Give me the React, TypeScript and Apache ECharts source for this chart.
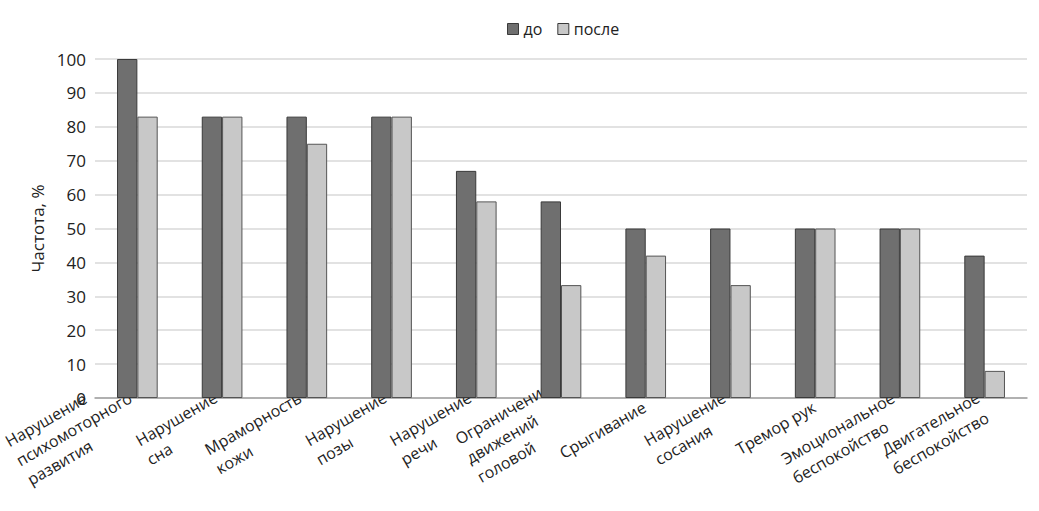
import React, { useEffect, useRef } from "react";
import * as echarts from "echarts";

const categories = [
  "Нарушение\nпсихомоторного\nразвития",
  "Нарушение\nсна",
  "Мраморность\nкожи",
  "Нарушение\nпозы",
  "Нарушение\nречи",
  "Ограничение\nдвижений\nголовой",
  "Срыгивание",
  "Нарушение\nсосания",
  "Тремор рук",
  "Эмоциональное\nбеспокойство",
  "Двигательное\nбеспокойство",
];
const before = [100, 83, 83, 83, 67, 58, 50, 50, 50, 50, 42];
const after = [83, 83, 75, 83, 58, 33.3, 42, 33.3, 50, 50, 8];
const seriesNames = ["до", "после"];
const FONT = "'Open Sans', 'DejaVu Sans', sans-serif";
const LABEL_SIZE = 16;
const LINE_H = 22;

function measure(text: string): number {
  const c = document.createElement("canvas").getContext("2d")!;
  c.font = `${LABEL_SIZE}px ${FONT}`;
  return c.measureText(text).width;
}

export default function App() {
  const ref = useRef<HTMLDivElement>(null);
  useEffect(() => {
    const chart = echarts.init(ref.current!, null, { renderer: "svg" });
    const rich: Record<string, any> = {};
    const xData = categories.map((cat, i) => {
      const widths = cat.split("\n").map(measure);
      const w = Math.max(...widths);
      const longest = widths.indexOf(w);
      rich["c" + i] = {
        width: Math.ceil(w) + 1,
        align: "left",
        fontSize: LABEL_SIZE,
        lineHeight: LINE_H,
        fontFamily: FONT,
        color: "#222",
      };
      return {
        value: cat,
        textStyle: { padding: [-longest * LINE_H, 0, 0, 0] },
      };
    });
    chart.setOption({
      animation: false,
      backgroundColor: "#ffffff",
      textStyle: { fontFamily: FONT, color: "#222" },
      legend: {
        top: 16,
        left: 502,
        icon: "rect",
        itemWidth: 11,
        itemHeight: 11,
        itemGap: 15,
        textStyle: { fontSize: 16, color: "#222", fontFamily: FONT },
        itemStyle: { borderColor: "#3a3a3a", borderWidth: 1 },
        data: seriesNames,
      },
      grid: {
        left: 95,
        right: 12,
        top: 59,
        bottom: 113,
        containLabel: false,
        outerBoundsMode: "none",
      },
      xAxis: {
        type: "category",
        data: xData,
        axisLine: { lineStyle: { color: "#a0a0a0", width: 1.5 } },
        axisTick: { show: false },
        axisLabel: {
          rotate: 30,
          interval: 0,
          align: "right",
          verticalAlign: "top",
          margin: 7,
          formatter: (value: string, index: number) =>
            value
              .split("\n")
              .map((l) => `{c${index}|${l}}`)
              .join("\n"),
          rich,
        },
      },
      yAxis: {
        type: "value",
        min: 0,
        max: 100,
        interval: 10,
        name: "Частота, %",
        nameLocation: "middle",
        nameGap: 49,
        nameTextStyle: { fontSize: 17, color: "#222", fontFamily: FONT },
        axisLine: { show: false },
        axisTick: { show: false },
        axisLabel: { fontSize: 17, color: "#222", fontFamily: FONT, margin: 9 },
        splitLine: { lineStyle: { color: "#d9d9d9", width: 1.5 } },
      },
      series: [
        {
          name: seriesNames[0],
          type: "bar",
          data: before,
          barWidth: "24%",
          barGap: "0%",
          itemStyle: { color: "#6f6f6f", borderColor: "#3a3a3a", borderWidth: 1 },
        },
        {
          name: seriesNames[1],
          type: "bar",
          data: after,
          barWidth: "24%",
          itemStyle: { color: "#c8c8c8", borderColor: "#555", borderWidth: 1 },
        },
      ],
    });
    return () => chart.dispose();
  }, []);
  return (
    <div
      ref={ref}
      style={{ position: "absolute", left: 0, top: 0, width: 1039, height: 511 }}
    />
  );
}
